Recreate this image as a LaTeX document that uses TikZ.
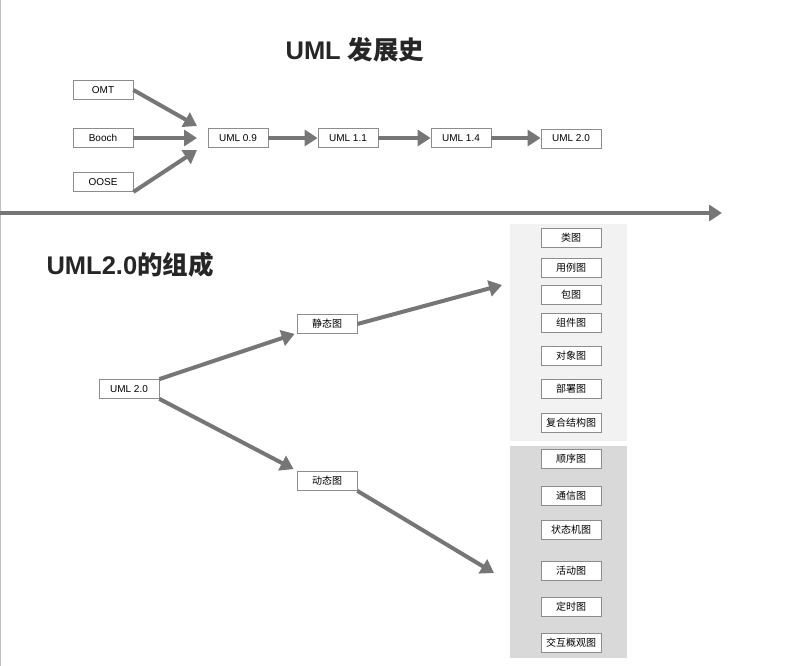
\documentclass[tikz,border=0pt]{standalone}
\usepackage{fontspec}
\setmainfont{Liberation Sans}
\newfontfamily\cjk{Noto Sans CJK SC}
\usetikzlibrary{arrows.meta,positioning}
\definecolor{umlgray}{HTML}{767676}
\definecolor{boxgray}{HTML}{8C8C8C}
\definecolor{panellight}{HTML}{F2F2F2}
\definecolor{paneldark}{HTML}{D9D9D9}
\definecolor{titleink}{HTML}{262626}

\tikzset{
  umlbox/.style={draw=boxgray,line width=0.8pt,fill=white,minimum width=60pt,minimum height=19pt,inner sep=0pt,font=\fontsize{10}{12}\selectfont},
  flow/.style={draw=umlgray,line width=4pt,-{Triangle[length=13pt,width=16pt]}},
  panel/.style={draw=none,minimum width=117pt,inner sep=0pt}
}

\begin{document}
\begin{tikzpicture}[x=1pt,y=-1pt]
  \useasboundingbox[fill=white] (0,0) rectangle (800,666);
  \draw[black!25,line width=1.2pt] (0.6,0) -- (0.6,666);

  % history
  \node[font=\fontsize{25.5}{28}\selectfont\bfseries,text=titleink] (histtitle) at (355,50) {UML {\cjk\bfseries 发展史}};
  \node[umlbox] (omt) at (103,90) {OMT};
  \node[umlbox] (booch) at (103,138) {Booch};
  \node[umlbox] (oose) at (103,182) {OOSE};
  \node[umlbox] (v09) at (238,138) {UML 0.9};
  \node[umlbox] (v11) at (348,138) {UML 1.1};
  \node[umlbox] (v14) at (461,138) {UML 1.4};
  \node[umlbox] (v20) at (571,138.5) {UML 2.0};
  \coordinate (mtop) at (197,126);
  \coordinate (mmid) at (197,138);
  \coordinate (mbot) at (197,150);
  \draw[flow] (omt.east) -- (mtop);
  \draw[flow] (booch.east) -- (mmid);
  \draw[flow] (oose.south east) -- (mbot);
  \draw[flow] (v09) -- (v11);
  \draw[flow] (v11) -- (v14);
  \draw[flow] (v14.east) -- (v14.east -| v20.west);

  % divider
  \coordinate (axl) at (0,213);
  \coordinate (axr) at (722,213);
  \draw[flow] (axl) -- (axr);

  % composition
  \node[anchor=west,font=\fontsize{25.5}{28}\selectfont\bfseries,text=titleink] (comptitle) at (43,265) {UML2.0{\cjk\bfseries 的组成}};
  \node[panel,fill=panellight,minimum height=217pt] (statpanel) at (568.5,332.5) {};
  \node[panel,fill=paneldark,minimum height=212pt] (dynpanel) at (568.5,552) {};

  \node[umlbox] (root) at (129,389) {UML 2.0};
  \node[umlbox] (static) at (327,324) {\cjk 静态图};
  \node[umlbox] (dynamic) at (327,481) {\cjk 动态图};
  \draw[flow] (root.north east) -- ([xshift=-2pt]static.south west);
  \draw[flow] (root.south east) -- ([xshift=-3pt,yshift=2pt]dynamic.north west);
  \coordinate (statin) at (502,285);
  \coordinate (dynin) at (494,573);
  \draw[flow] (static.east) -- (statin);
  \draw[flow] (dynamic.south east) -- (dynin);

  \foreach \lbl/\yy [count=\i] in {类图/238,用例图/268,包图/295,组件图/323,对象图/356,部署图/389,复合结构图/423}
    \node[umlbox] (s\i) at (571,\yy) {\cjk \lbl};
  \foreach \lbl/\yy [count=\i] in {顺序图/459,通信图/496,状态机图/530,活动图/571,定时图/607,交互概观图/643}
    \node[umlbox] (d\i) at (571,\yy) {\cjk \lbl};
\end{tikzpicture}
\end{document}
